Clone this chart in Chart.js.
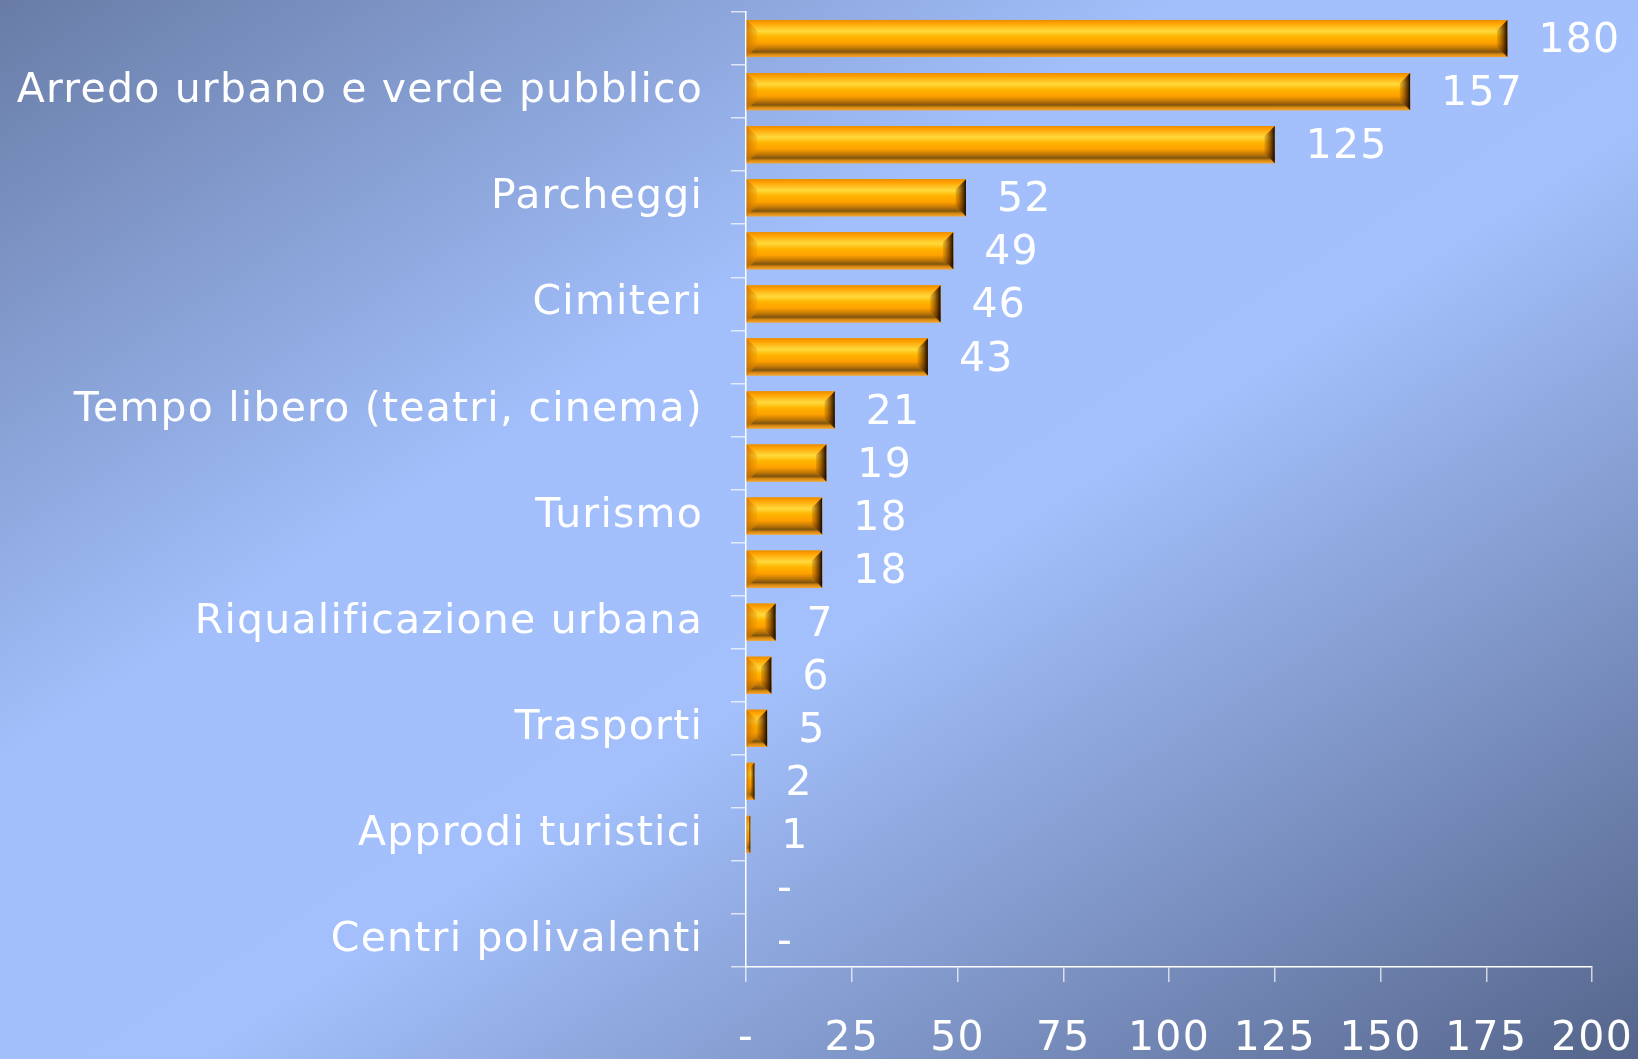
<!DOCTYPE html>
<html><head><meta charset="utf-8">
<script src="https://cdn.jsdelivr.net/npm/chart.js@4.4.0/dist/chart.umd.min.js"></script>
<style>html,body{margin:0;padding:0;overflow:hidden;background:#8fa8dc}#wrap{width:1638px;height:1059px;position:relative}canvas{display:block}</style>
</head><body><div id="wrap"><canvas id="c" width="1638" height="1059"></canvas></div>
<script>
const categories = ['', 'Arredo urbano e verde pubblico', '', 'Parcheggi', '', 'Cimiteri', '', 'Tempo libero (teatri, cinema)', '', 'Turismo', '', 'Riqualificazione urbana', '', 'Trasporti', '', 'Approdi turistici', '', 'Centri polivalenti'];
const values = [180, 157, 125, 52, 49, 46, 43, 21, 19, 18, 18, 7, 6, 5, 2, 1, 0, 0];
const xMin = 0, xMax = 200, xStep = 25;

const FONT = '"DejaVu Sans", Verdana, sans-serif';
const FSIZE = 41;
const LS = '1.2px';

const spacing = {
  id: 'spacing',
  beforeUpdate(chart) { chart.ctx.letterSpacing = LS; },
  beforeLayout(chart) { chart.ctx.letterSpacing = LS; },
  beforeDraw(chart) { chart.ctx.letterSpacing = LS; }
};

const background = {
  id: 'background',
  beforeDraw(chart) {
    const { ctx, width, height } = chart;
    const k = 0.912;
    const g = ctx.createLinearGradient(0, 0, k * height, k * width);
    g.addColorStop(0, '#687ca6');
    g.addColorStop(0.36, '#a2bffb');
    g.addColorStop(0.56, '#a3c0fc');
    g.addColorStop(1, '#55658b');
    ctx.save();
    ctx.fillStyle = g;
    ctx.fillRect(0, 0, width, height);
    ctx.restore();
  }
};

const bevelBars = {
  id: 'bevelBars',
  afterDatasetsDraw(chart) {
    const ctx = chart.ctx;
    const meta = chart.getDatasetMeta(0);
    ctx.save();
    meta.data.forEach(el => {
      const p = el.getProps(['x', 'y', 'base', 'height'], true);
      const x0 = Math.min(p.base, p.x), x1 = Math.max(p.base, p.x);
      const w = x1 - x0;
      if (w < 0.5) return;
      const h = p.height, yT = p.y - h / 2, yB = p.y + h / 2;
      const g = ctx.createLinearGradient(0, yT, 0, yB);
      g.addColorStop(0, '#e88c00');
      g.addColorStop(0.08, '#ffa000');
      g.addColorStop(0.3, '#ffda3c');
      g.addColorStop(0.45, '#ffb400');
      g.addColorStop(0.62, '#ffa000');
      g.addColorStop(0.76, '#c07806');
      g.addColorStop(0.86, '#80540e');
      g.addColorStop(0.93, '#dc8c10');
      g.addColorStop(1, '#f2a232');
      ctx.fillStyle = g;
      ctx.fillRect(x0, yT, w, h);
      const b = Math.min(h * 0.28, w / 2);
      const gl = ctx.createLinearGradient(x0, 0, x0 + b, 0);
      gl.addColorStop(0, 'rgba(205,115,0,0.85)');
      gl.addColorStop(1, 'rgba(235,145,0,0.3)');
      ctx.fillStyle = gl;
      ctx.beginPath();
      ctx.moveTo(x0, yT); ctx.lineTo(x0 + b, yT + b); ctx.lineTo(x0 + b, yB - b); ctx.lineTo(x0, yB);
      ctx.closePath(); ctx.fill();
      const gr = ctx.createLinearGradient(x1 - b, 0, x1, 0);
      gr.addColorStop(0, 'rgba(150,80,0,0.2)');
      gr.addColorStop(0.6, 'rgba(90,45,0,0.75)');
      gr.addColorStop(1, 'rgba(20,8,0,1)');
      ctx.fillStyle = gr;
      ctx.beginPath();
      ctx.moveTo(x1, yT); ctx.lineTo(x1 - b, yT + b); ctx.lineTo(x1 - b, yB - b); ctx.lineTo(x1, yB);
      ctx.closePath(); ctx.fill();
    });
    ctx.restore();
  }
};

const valueLabels = {
  id: 'valueLabels',
  afterDatasetsDraw(chart) {
    const ctx = chart.ctx;
    const meta = chart.getDatasetMeta(0);
    ctx.save();
    ctx.letterSpacing = LS;
    ctx.font = FSIZE + 'px ' + FONT;
    ctx.fillStyle = '#ffffff';
    ctx.textAlign = 'left';
    ctx.textBaseline = 'middle';
    meta.data.forEach((el, i) => {
      const v = values[i];
      ctx.fillText(v === 0 ? '-' : String(v), el.x + 31, el.y + 3);
    });
    ctx.restore();
  }
};

new Chart(document.getElementById('c'), {
  type: 'bar',
  data: {
    labels: categories,
    datasets: [{
      data: values,
      backgroundColor: '#ffa500',
      borderWidth: 0,
      barPercentage: 1,
      categoryPercentage: 0.7
    }]
  },
  options: {
    indexAxis: 'y',
    responsive: false,
    animation: false,
    events: [],
    layout: { padding: { top: 12, right: 46, left: 0, bottom: 0 } },
    plugins: { legend: { display: false }, tooltip: { enabled: false } },
    scales: {
      x: {
        min: xMin, max: xMax,
        afterFit(s) { s.height = 92; s.paddingLeft = 0; s.paddingRight = 0; },
        ticks: {
          stepSize: xStep,
          color: '#ffffff',
          font: { family: FONT, size: FSIZE },
          padding: 33,
          maxRotation: 0,
          callback: v => v === 0 ? '-' : String(v)
        },
        grid: { drawOnChartArea: false, tickLength: 15, color: 'rgba(255,255,255,0.7)', lineWidth: 1.5 },
        border: { color: '#ffffff', width: 1.5 }
      },
      y: {
        afterFit(s) { s.width = 746; s.paddingTop = 0; s.paddingBottom = 0; },
        ticks: {
          color: '#ffffff',
          font: { family: FONT, size: FSIZE },
          padding: 28,
          autoSkip: false
        },
        grid: { drawOnChartArea: false, tickLength: 15, color: 'rgba(255,255,255,0.7)', lineWidth: 1.5, offset: true },
        border: { color: '#ffffff', width: 1.5 }
      }
    }
  },
  plugins: [spacing, background, bevelBars, valueLabels]
});
</script>
</body></html>
